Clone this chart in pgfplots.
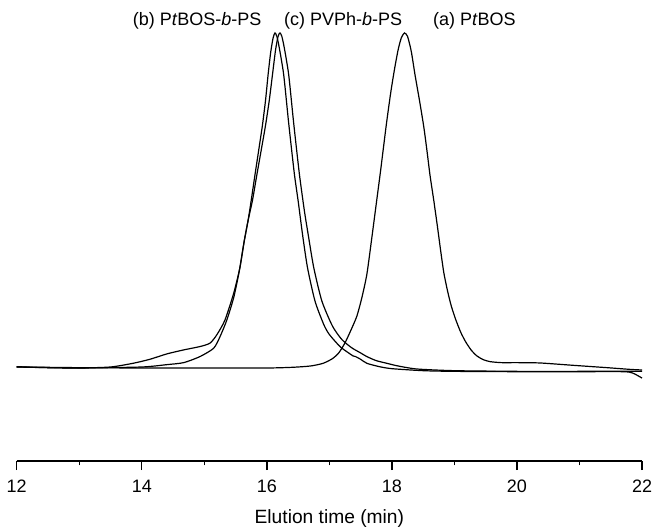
\documentclass[border=0pt]{standalone}
\usepackage{fontspec}
\setmainfont{Liberation Sans}
\usepackage{pgfplots}
\pgfplotsset{compat=1.18}

% GPC traces (normalised, baseline 0, peak 1)
\pgfplotstableread{
x y
12.00 0.003
12.50 0.002
13.00 0.001
14.00 0.000
15.00 0.000
16.00 0.000
16.40 0.002
16.70 0.006
16.90 0.014
17.05 0.028
17.15 0.045
17.25 0.075
17.35 0.115
17.44 0.155
17.52 0.21
17.60 0.28
17.68 0.39
17.75 0.49
17.82 0.59
17.91 0.725
17.98 0.82
18.04 0.89
18.10 0.95
18.15 0.985
18.20 1.00
18.25 0.99
18.31 0.945
18.37 0.875
18.44 0.80
18.51 0.72
18.56 0.65
18.61 0.575
18.67 0.50
18.73 0.42
18.78 0.35
18.83 0.285
18.89 0.23
18.95 0.185
19.02 0.145
19.10 0.107
19.18 0.078
19.27 0.053
19.36 0.036
19.46 0.025
19.57 0.019
19.75 0.016
20.00 0.016
20.37 0.015
20.90 0.008
21.44 0.001
21.80 -0.004
22.00 -0.006
}\ptbos

\pgfplotstableread{
x y
12.00 0.004
12.50 0.001
13.00 0.000
13.50 0.003
13.86 0.014
14.13 0.026
14.40 0.042
14.67 0.054
14.93 0.064
15.09 0.074
15.20 0.099
15.33 0.143
15.47 0.223
15.57 0.30
15.64 0.38
15.70 0.44
15.75 0.50
15.81 0.576
15.87 0.65
15.93 0.725
15.98 0.80
16.02 0.875
16.06 0.94
16.10 0.985
16.13 1.00
16.16 0.99
16.20 0.955
16.27 0.875
16.35 0.73
16.44 0.58
16.50 0.50
16.57 0.40
16.65 0.30
16.77 0.20
16.91 0.13
17.00 0.10
17.17 0.064
17.30 0.046
17.38 0.036
17.42 0.034
17.50 0.026
17.60 0.014
17.80 0.004
18.00 -0.002
18.50 -0.008
19.00 -0.010
20.00 -0.011
21.00 -0.011
21.70 -0.011
21.85 -0.015
22.00 -0.030
}\blockb

\pgfplotstableread{
x y
12.00 0.003
12.50 0.001
13.00 0.000
14.00 0.003
14.40 0.010
14.67 0.016
14.93 0.034
15.15 0.059
15.25 0.093
15.36 0.143
15.47 0.21
15.56 0.29
15.63 0.37
15.70 0.44
15.77 0.50
15.84 0.576
15.91 0.65
15.98 0.725
16.04 0.80
16.09 0.875
16.14 0.95
16.18 0.99
16.21 1.00
16.24 0.99
16.28 0.955
16.35 0.875
16.43 0.73
16.52 0.58
16.60 0.47
16.66 0.40
16.75 0.30
16.88 0.20
17.05 0.125
17.20 0.085
17.36 0.060
17.50 0.045
17.60 0.034
17.75 0.022
17.92 0.014
18.10 0.006
18.40 -0.003
19.00 -0.008
20.00 -0.010
21.00 -0.010
22.00 -0.010
}\blockc

\begin{document}
\begin{tikzpicture}
\begin{axis}[
  scale only axis,
  width=312.65pt, height=230.5pt,
  xmin=12, xmax=22,
  ymin=-0.2776, ymax=1.0985,
  axis x line*=bottom,
  hide y axis,
  axis line style={line width=0.8pt},
  xtick={12,14,...,22},
  minor x tick num=1,
  tick align=outside,
  major tick length=4.5pt,
  minor tick length=2.25pt,
  every tick/.style={line width=0.7pt, black},
  /pgf/number format/assume math mode=true,
  ticklabel style={font=\fontsize{9}{11}\selectfont},
  xticklabel style={anchor=base, yshift=-11pt},
  xlabel={Elution time (min)},
  xlabel style={font=\fontsize{9.6}{11}\selectfont, at={(axis description cs:0.5,0)}, anchor=base, yshift=-31pt},
  clip=false,
]
\addplot[black, line width=0.6pt, smooth, tension=0.4] table {\ptbos};
\addplot[black, line width=0.6pt, smooth, tension=0.4] table {\blockb};
\addplot[black, line width=0.6pt, smooth, tension=0.4] table {\blockc};

\node[anchor=base, font=\fontsize{9}{11}\selectfont] at (axis cs:14.885,1.021) {(b) P\textit{t}BOS-\textit{b}-PS};
\node[anchor=base, font=\fontsize{9}{11}\selectfont] at (axis cs:17.22,1.021) {(c) PVPh-\textit{b}-PS};
\node[anchor=base, font=\fontsize{9}{11}\selectfont] at (axis cs:19.32,1.021) {(a) P\textit{t}BOS};
\end{axis}
\pgfresetboundingbox
\path[use as bounding box] ([shift={(-8.35pt,-33.5pt)}]current axis.south west) rectangle ([shift={(7pt,0pt)}]current axis.north east);
\end{tikzpicture}
\end{document}
